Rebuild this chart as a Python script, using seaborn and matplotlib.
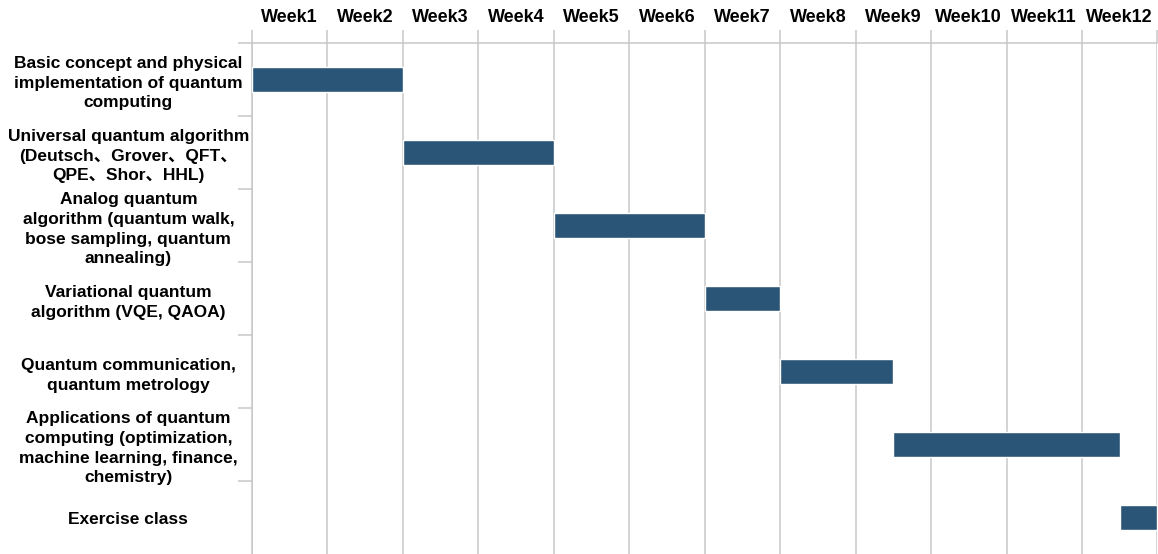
import numpy as np
import pandas as pd
import seaborn as sns
import matplotlib.pyplot as plt
from matplotlib.ticker import FixedLocator

# data
tasks = [
    "Basic concept and physical\nimplementation of quantum\ncomputing",
    "Universal quantum algorithm\n(Deutsch、Grover、QFT、\nQPE、Shor、HHL)",
    "Analog quantum\nalgorithm (quantum walk,\nbose sampling, quantum\nannealing)",
    "Variational quantum\nalgorithm (VQE, QAOA)",
    "Quantum communication,\nquantum metrology",
    "Applications of quantum\ncomputing (optimization,\nmachine learning, finance,\nchemistry)",
    "Exercise class",
]
start_week = [0, 2, 4, 6, 7, 8.5, 11.5]
end_week = [2, 4, 6, 7, 8.5, 11.5, 12]
week_labels = ["Week%d" % i for i in range(1, 13)]

df = pd.DataFrame({"task": tasks, "start": start_week, "end": end_week})
df["duration"] = df["end"] - df["start"]

sns.set_theme(style="white")
plt.rcParams["font.family"] = ["Liberation Sans", "Noto Sans CJK SC", "DejaVu Sans"]
plt.rcParams["font.weight"] = "bold"

bar_color = "#2b5577"
grid_color = "#c8c8c8"

fig = plt.figure(figsize=(11.58, 5.54), dpi=100)
ax = fig.add_axes([252 / 1158, 0.0, 1 - 252 / 1158 - 0.0005, 1 - 43 / 554])

sns.barplot(data=df, x="duration", y="task", left=df["start"].values,
            color=bar_color, saturation=1, width=0.33, errorbar=None,
            ax=ax, zorder=3)

ax.set_xlim(0, 12)
ax.set_ylim(len(tasks) - 0.5, -0.5)

# weeks on top: gridlines at boundaries, labels centred in the columns
ax.xaxis.tick_top()
ax.xaxis.set_major_locator(FixedLocator(np.arange(0, 13)))
ax.xaxis.set_minor_locator(FixedLocator(np.arange(12) + 0.5))
ax.set_xticklabels([], minor=False)
ax.set_xticklabels(week_labels, minor=True, fontsize=13, fontweight="bold")
ax.tick_params(axis="x", which="major", top=True, length=9.5, width=1.1,
               color=grid_color, direction="out")
ax.tick_params(axis="x", which="minor", top=True, length=0, pad=12,
               labelcolor="black")
ax.grid(axis="x", which="major", color=grid_color, linewidth=1.1, zorder=0)
ax.set_axisbelow(True)

# task names on the left, row boundary ticks
ax.yaxis.set_minor_locator(FixedLocator(np.arange(len(tasks)) - 0.5))
ax.tick_params(axis="y", which="minor", left=True, length=10, width=1.1,
               color=grid_color)
ax.tick_params(axis="y", which="major", left=True, length=0, pad=89,
               labelsize=12.5, labelcolor="black")
for lab in ax.get_yticklabels():
    lab.set_ha("center")
    lab.set_multialignment("center")
    lab.set_fontweight("bold")
    lab.set_linespacing(1.38)

ax.set_xlabel("")
ax.set_ylabel("")
for side in ["bottom", "right"]:
    ax.spines[side].set_visible(False)
for side in ["top", "left"]:
    ax.spines[side].set_color(grid_color)
    ax.spines[side].set_linewidth(1.1)

fig.savefig("out.png", dpi=100)
